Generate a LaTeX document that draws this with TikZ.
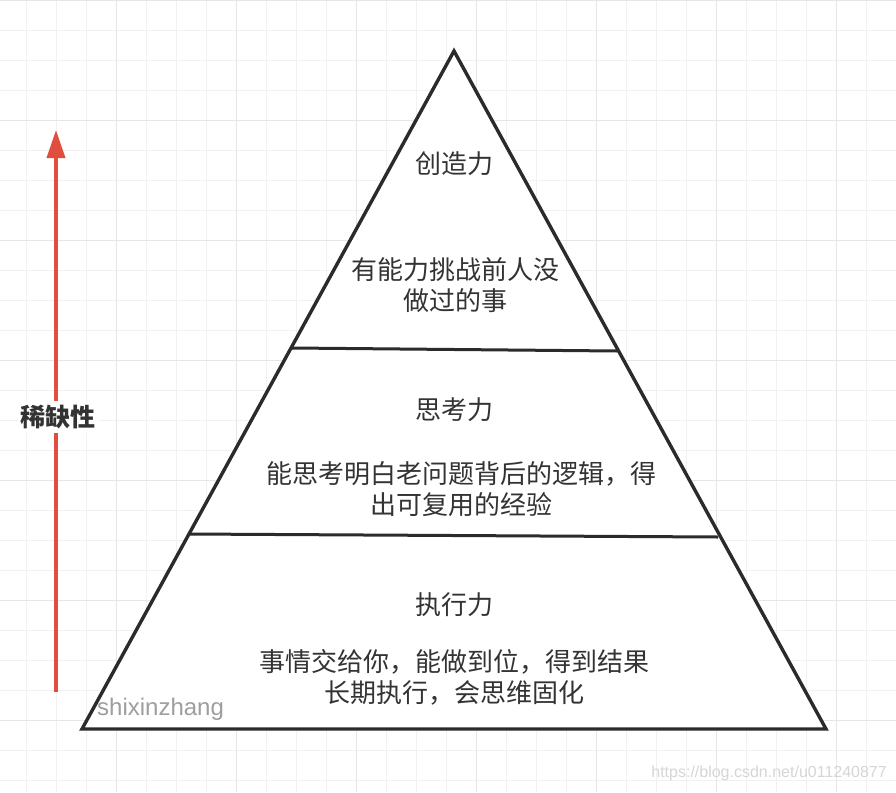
\documentclass[tikz,border=0pt]{standalone}
\usepackage{fontspec}
\usetikzlibrary{arrows.meta}
\newfontfamily\cjk{Noto Sans CJK SC}
\newfontfamily\latsans{Liberation Sans}
\definecolor{gridminor}{HTML}{F2F0F0}
\definecolor{gridmajor}{HTML}{E8E5E5}
\definecolor{pyrline}{HTML}{2B2B2B}
\definecolor{txt}{HTML}{333333}
\definecolor{arrowred}{HTML}{E24E3E}
\definecolor{wmgray}{HTML}{9E9E9E}
\definecolor{urlgray}{HTML}{D6D6D6}
\tikzset{
  cjktext/.style={font=\cjk\fontsize{26}{31}\selectfont, text=txt, align=center, inner sep=0pt},
  pyredge/.style={draw=pyrline, line width=3.4pt, line join=miter},
  divider/.style={draw=pyrline, line width=3pt},
}
\begin{document}
\begin{tikzpicture}[x=1pt,y=-1pt]
\useasboundingbox (0,0) rectangle (896,792);
\fill[white] (0,0) rectangle (896,792);
% grid
\foreach \k in {0,...,29} {
  \pgfmathsetmacro{\gx}{26.7+30*\k}
  \draw[gridminor, line width=1.3pt] (\gx,0) -- (\gx,792);
}
\foreach \k in {0,...,26} {
  \pgfmathsetmacro{\gy}{0.7+30*\k}
  \draw[gridminor, line width=1.3pt] (0,\gy) -- (896,\gy);
}
\foreach \k in {-1,...,6} {
  \pgfmathsetmacro{\gx}{116.7+120*\k}
  \draw[gridmajor, line width=1.5pt] (\gx,0) -- (\gx,792);
}
\foreach \k in {0,...,6} {
  \pgfmathsetmacro{\gy}{0.7+120*\k}
  \draw[gridmajor, line width=1.5pt] (0,\gy) -- (896,\gy);
}
% pyramid
\coordinate (apex) at (454,51);
\coordinate (bl) at (82,729);
\coordinate (br) at (826,729);
\coordinate (d1l) at (292,348);
\coordinate (d1r) at (617,351);
\coordinate (d2l) at (188,534);
\coordinate (d2r) at (718,537);
\fill[white] (apex) -- (bl) -- (br) -- cycle;
\draw[pyredge] (apex) -- (bl) -- (br) -- cycle;
\draw[divider] (d1l) -- (d1r);
\draw[divider] (d2l) -- (d2r);
% texts
\node[cjktext] (t1) at (454,164) {创造力};
\node[cjktext] (t1b) at (455,285) {有能力挑战前人没\\做过的事};
\node[cjktext] (t2) at (454,410) {思考力};
\node[cjktext] (t2b) at (461,489) {能思考明白老问题背后的逻辑，得\\出可复用的经验};
\node[cjktext] (t3) at (454,605) {执行力};
\node[cjktext] (t3b) at (454,677.5) {事情交给你，能做到位，得到结果\\长期执行，会思维固化};
% arrow
\coordinate (arrowbot) at (56,692);
\coordinate (arrowtip) at (56,130);
\draw[arrowred, line width=3.6pt, -{Triangle[length=28pt,width=18pt]}] (arrowbot) -- (arrowtip);
\node[fill=white, inner xsep=3pt, inner ysep=4pt, font=\cjk\bfseries\fontsize{25}{30}\selectfont, text=txt] (scarce) at (58,417) {稀缺性};
% watermarks
\node[anchor=west, inner sep=0pt, font=\latsans\fontsize{24}{28}\selectfont, text=wmgray] (wm1) at (97,709) {shixinzhang};
\node[anchor=east, inner sep=0pt, font=\latsans\fontsize{16}{19}\selectfont, text=urlgray] (wm2) at (887,773) {https://blog.csdn.net/u011240877};
\end{tikzpicture}
\end{document}
